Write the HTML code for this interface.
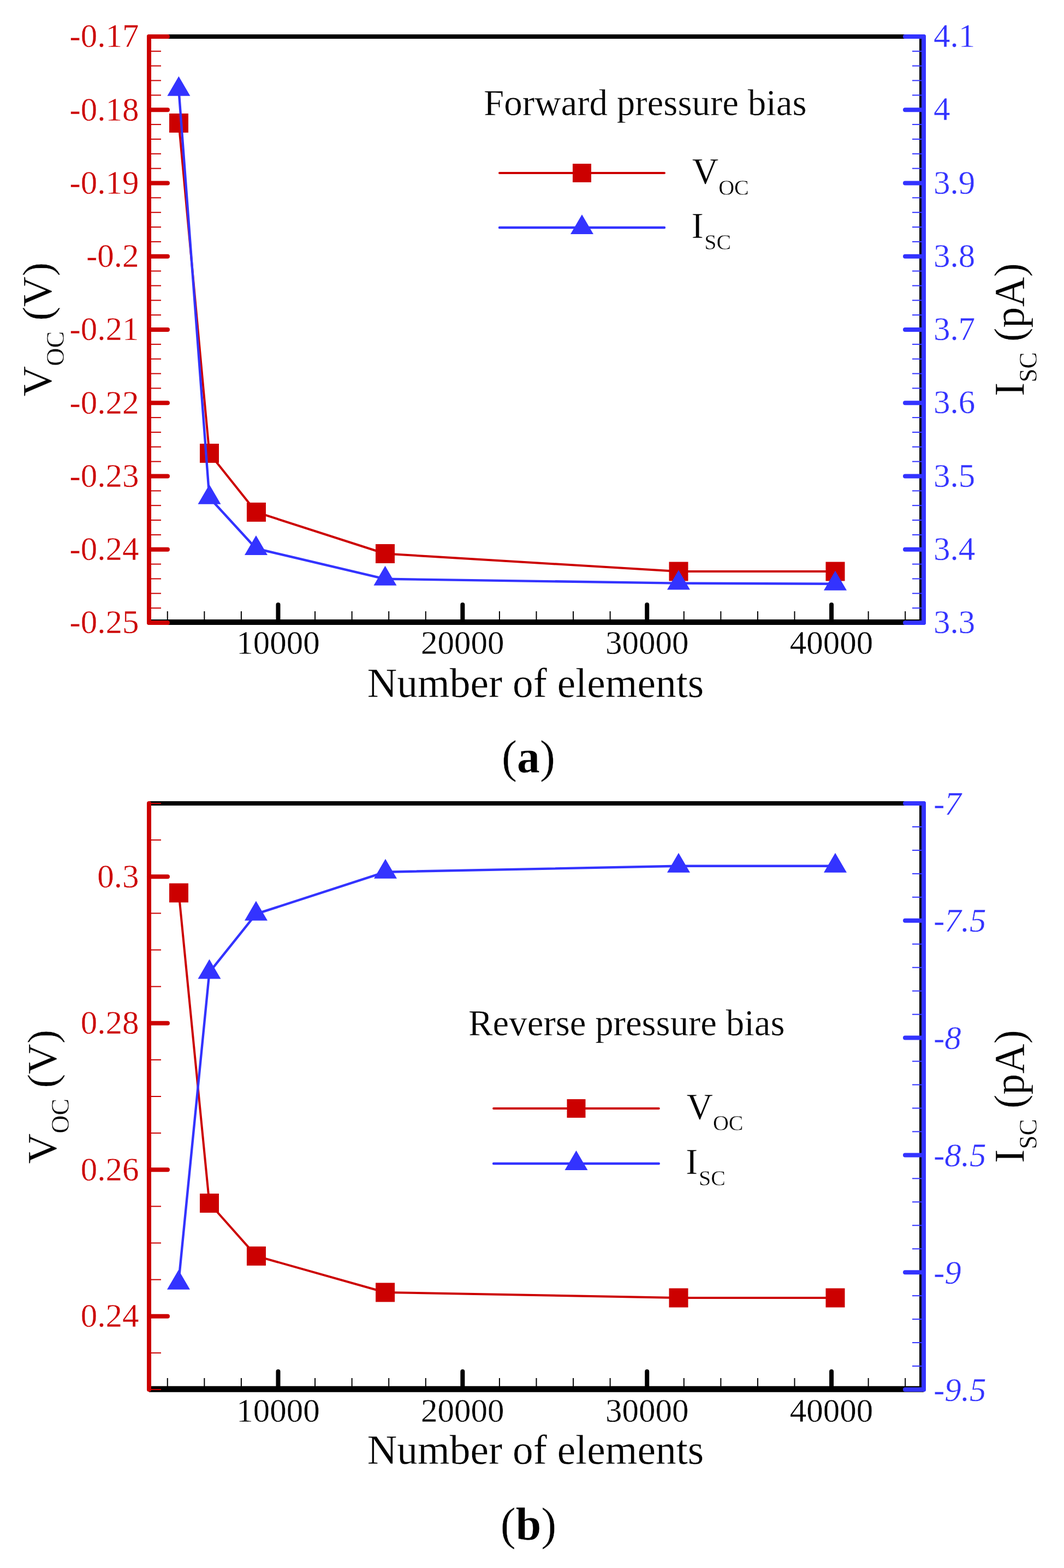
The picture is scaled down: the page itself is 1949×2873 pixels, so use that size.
<!DOCTYPE html>
<html><head><meta charset="utf-8"><title>Figure</title>
<style>html,body{margin:0;padding:0;background:#fff;}svg{display:block;}</style>
</head><body>
<svg width="1949" height="2873" viewBox="0 0 1949 2873" font-family="'Liberation Serif','Times New Roman',serif">
<rect width="1949" height="2873" fill="#fff"/>
<style>text{stroke:#fff;stroke-width:0.4;paint-order:normal;}</style>
<line x1="273.00" y1="67.00" x2="1692.00" y2="67.00" stroke="#000" stroke-width="8" stroke-linecap="butt"/>
<line x1="1688.00" y1="67.00" x2="1688.00" y2="1140.00" stroke="#000" stroke-width="8" stroke-linecap="butt"/>
<line x1="273.00" y1="1140.00" x2="1692.00" y2="1140.00" stroke="#000" stroke-width="10" stroke-linecap="butt"/>
<line x1="306.79" y1="1135.00" x2="306.79" y2="1120.00" stroke="#000" stroke-width="2" stroke-linecap="butt"/>
<line x1="374.36" y1="1135.00" x2="374.36" y2="1120.00" stroke="#000" stroke-width="2" stroke-linecap="butt"/>
<line x1="441.93" y1="1135.00" x2="441.93" y2="1120.00" stroke="#000" stroke-width="2" stroke-linecap="butt"/>
<line x1="509.50" y1="1135.00" x2="509.50" y2="1108.00" stroke="#000" stroke-width="8" stroke-linecap="round"/>
<line x1="577.07" y1="1135.00" x2="577.07" y2="1120.00" stroke="#000" stroke-width="2" stroke-linecap="butt"/>
<line x1="644.64" y1="1135.00" x2="644.64" y2="1120.00" stroke="#000" stroke-width="2" stroke-linecap="butt"/>
<line x1="712.21" y1="1135.00" x2="712.21" y2="1120.00" stroke="#000" stroke-width="2" stroke-linecap="butt"/>
<line x1="779.79" y1="1135.00" x2="779.79" y2="1120.00" stroke="#000" stroke-width="2" stroke-linecap="butt"/>
<line x1="847.36" y1="1135.00" x2="847.36" y2="1108.00" stroke="#000" stroke-width="8" stroke-linecap="round"/>
<line x1="914.93" y1="1135.00" x2="914.93" y2="1120.00" stroke="#000" stroke-width="2" stroke-linecap="butt"/>
<line x1="982.50" y1="1135.00" x2="982.50" y2="1120.00" stroke="#000" stroke-width="2" stroke-linecap="butt"/>
<line x1="1050.07" y1="1135.00" x2="1050.07" y2="1120.00" stroke="#000" stroke-width="2" stroke-linecap="butt"/>
<line x1="1117.64" y1="1135.00" x2="1117.64" y2="1120.00" stroke="#000" stroke-width="2" stroke-linecap="butt"/>
<line x1="1185.21" y1="1135.00" x2="1185.21" y2="1108.00" stroke="#000" stroke-width="8" stroke-linecap="round"/>
<line x1="1252.79" y1="1135.00" x2="1252.79" y2="1120.00" stroke="#000" stroke-width="2" stroke-linecap="butt"/>
<line x1="1320.36" y1="1135.00" x2="1320.36" y2="1120.00" stroke="#000" stroke-width="2" stroke-linecap="butt"/>
<line x1="1387.93" y1="1135.00" x2="1387.93" y2="1120.00" stroke="#000" stroke-width="2" stroke-linecap="butt"/>
<line x1="1455.50" y1="1135.00" x2="1455.50" y2="1120.00" stroke="#000" stroke-width="2" stroke-linecap="butt"/>
<line x1="1523.07" y1="1135.00" x2="1523.07" y2="1108.00" stroke="#000" stroke-width="8" stroke-linecap="round"/>
<line x1="1590.64" y1="1135.00" x2="1590.64" y2="1120.00" stroke="#000" stroke-width="2" stroke-linecap="butt"/>
<line x1="1658.21" y1="1135.00" x2="1658.21" y2="1120.00" stroke="#000" stroke-width="2" stroke-linecap="butt"/>
<text x="509.50" y="1198.40" font-size="61" fill="#000" text-anchor="middle" >10000</text>
<text x="847.36" y="1198.40" font-size="61" fill="#000" text-anchor="middle" >20000</text>
<text x="1185.21" y="1198.40" font-size="61" fill="#000" text-anchor="middle" >30000</text>
<text x="1523.07" y="1198.40" font-size="61" fill="#000" text-anchor="middle" >40000</text>
<line x1="273.00" y1="1141.00" x2="307.00" y2="1141.00" stroke="#cc0000" stroke-width="8" stroke-linecap="round"/>
<line x1="273.00" y1="1114.15" x2="295.00" y2="1114.15" stroke="#cc0000" stroke-width="2" stroke-linecap="butt"/>
<line x1="273.00" y1="1087.30" x2="295.00" y2="1087.30" stroke="#cc0000" stroke-width="2" stroke-linecap="butt"/>
<line x1="273.00" y1="1060.45" x2="295.00" y2="1060.45" stroke="#cc0000" stroke-width="2" stroke-linecap="butt"/>
<line x1="273.00" y1="1033.60" x2="295.00" y2="1033.60" stroke="#cc0000" stroke-width="2" stroke-linecap="butt"/>
<line x1="273.00" y1="1006.75" x2="307.00" y2="1006.75" stroke="#cc0000" stroke-width="8" stroke-linecap="round"/>
<line x1="273.00" y1="979.90" x2="295.00" y2="979.90" stroke="#cc0000" stroke-width="2" stroke-linecap="butt"/>
<line x1="273.00" y1="953.05" x2="295.00" y2="953.05" stroke="#cc0000" stroke-width="2" stroke-linecap="butt"/>
<line x1="273.00" y1="926.20" x2="295.00" y2="926.20" stroke="#cc0000" stroke-width="2" stroke-linecap="butt"/>
<line x1="273.00" y1="899.35" x2="295.00" y2="899.35" stroke="#cc0000" stroke-width="2" stroke-linecap="butt"/>
<line x1="273.00" y1="872.50" x2="307.00" y2="872.50" stroke="#cc0000" stroke-width="8" stroke-linecap="round"/>
<line x1="273.00" y1="845.65" x2="295.00" y2="845.65" stroke="#cc0000" stroke-width="2" stroke-linecap="butt"/>
<line x1="273.00" y1="818.80" x2="295.00" y2="818.80" stroke="#cc0000" stroke-width="2" stroke-linecap="butt"/>
<line x1="273.00" y1="791.95" x2="295.00" y2="791.95" stroke="#cc0000" stroke-width="2" stroke-linecap="butt"/>
<line x1="273.00" y1="765.10" x2="295.00" y2="765.10" stroke="#cc0000" stroke-width="2" stroke-linecap="butt"/>
<line x1="273.00" y1="738.25" x2="307.00" y2="738.25" stroke="#cc0000" stroke-width="8" stroke-linecap="round"/>
<line x1="273.00" y1="711.40" x2="295.00" y2="711.40" stroke="#cc0000" stroke-width="2" stroke-linecap="butt"/>
<line x1="273.00" y1="684.55" x2="295.00" y2="684.55" stroke="#cc0000" stroke-width="2" stroke-linecap="butt"/>
<line x1="273.00" y1="657.70" x2="295.00" y2="657.70" stroke="#cc0000" stroke-width="2" stroke-linecap="butt"/>
<line x1="273.00" y1="630.85" x2="295.00" y2="630.85" stroke="#cc0000" stroke-width="2" stroke-linecap="butt"/>
<line x1="273.00" y1="604.00" x2="307.00" y2="604.00" stroke="#cc0000" stroke-width="8" stroke-linecap="round"/>
<line x1="273.00" y1="577.15" x2="295.00" y2="577.15" stroke="#cc0000" stroke-width="2" stroke-linecap="butt"/>
<line x1="273.00" y1="550.30" x2="295.00" y2="550.30" stroke="#cc0000" stroke-width="2" stroke-linecap="butt"/>
<line x1="273.00" y1="523.45" x2="295.00" y2="523.45" stroke="#cc0000" stroke-width="2" stroke-linecap="butt"/>
<line x1="273.00" y1="496.60" x2="295.00" y2="496.60" stroke="#cc0000" stroke-width="2" stroke-linecap="butt"/>
<line x1="273.00" y1="469.75" x2="307.00" y2="469.75" stroke="#cc0000" stroke-width="8" stroke-linecap="round"/>
<line x1="273.00" y1="442.90" x2="295.00" y2="442.90" stroke="#cc0000" stroke-width="2" stroke-linecap="butt"/>
<line x1="273.00" y1="416.05" x2="295.00" y2="416.05" stroke="#cc0000" stroke-width="2" stroke-linecap="butt"/>
<line x1="273.00" y1="389.20" x2="295.00" y2="389.20" stroke="#cc0000" stroke-width="2" stroke-linecap="butt"/>
<line x1="273.00" y1="362.35" x2="295.00" y2="362.35" stroke="#cc0000" stroke-width="2" stroke-linecap="butt"/>
<line x1="273.00" y1="335.50" x2="307.00" y2="335.50" stroke="#cc0000" stroke-width="8" stroke-linecap="round"/>
<line x1="273.00" y1="308.65" x2="295.00" y2="308.65" stroke="#cc0000" stroke-width="2" stroke-linecap="butt"/>
<line x1="273.00" y1="281.80" x2="295.00" y2="281.80" stroke="#cc0000" stroke-width="2" stroke-linecap="butt"/>
<line x1="273.00" y1="254.95" x2="295.00" y2="254.95" stroke="#cc0000" stroke-width="2" stroke-linecap="butt"/>
<line x1="273.00" y1="228.10" x2="295.00" y2="228.10" stroke="#cc0000" stroke-width="2" stroke-linecap="butt"/>
<line x1="273.00" y1="201.25" x2="307.00" y2="201.25" stroke="#cc0000" stroke-width="8" stroke-linecap="round"/>
<line x1="273.00" y1="174.40" x2="295.00" y2="174.40" stroke="#cc0000" stroke-width="2" stroke-linecap="butt"/>
<line x1="273.00" y1="147.55" x2="295.00" y2="147.55" stroke="#cc0000" stroke-width="2" stroke-linecap="butt"/>
<line x1="273.00" y1="120.70" x2="295.00" y2="120.70" stroke="#cc0000" stroke-width="2" stroke-linecap="butt"/>
<line x1="273.00" y1="93.85" x2="295.00" y2="93.85" stroke="#cc0000" stroke-width="2" stroke-linecap="butt"/>
<line x1="273.00" y1="67.00" x2="307.00" y2="67.00" stroke="#cc0000" stroke-width="8" stroke-linecap="round"/>
<line x1="273.00" y1="67.00" x2="273.00" y2="1141.00" stroke="#cc0000" stroke-width="8" stroke-linecap="round"/>
<text x="254.50" y="86.30" font-size="61" fill="#cc0000" text-anchor="end" >-0.17</text>
<text x="254.50" y="220.55" font-size="61" fill="#cc0000" text-anchor="end" >-0.18</text>
<text x="254.50" y="354.80" font-size="61" fill="#cc0000" text-anchor="end" >-0.19</text>
<text x="254.50" y="489.05" font-size="61" fill="#cc0000" text-anchor="end" >-0.2</text>
<text x="254.50" y="623.30" font-size="61" fill="#cc0000" text-anchor="end" >-0.21</text>
<text x="254.50" y="757.55" font-size="61" fill="#cc0000" text-anchor="end" >-0.22</text>
<text x="254.50" y="891.80" font-size="61" fill="#cc0000" text-anchor="end" >-0.23</text>
<text x="254.50" y="1026.05" font-size="61" fill="#cc0000" text-anchor="end" >-0.24</text>
<text x="254.50" y="1160.30" font-size="61" fill="#cc0000" text-anchor="end" >-0.25</text>
<line x1="1692.00" y1="1141.00" x2="1658.00" y2="1141.00" stroke="#3333ff" stroke-width="8" stroke-linecap="round"/>
<line x1="1692.00" y1="1114.15" x2="1671.00" y2="1114.15" stroke="#3333ff" stroke-width="2" stroke-linecap="butt"/>
<line x1="1692.00" y1="1087.30" x2="1671.00" y2="1087.30" stroke="#3333ff" stroke-width="2" stroke-linecap="butt"/>
<line x1="1692.00" y1="1060.45" x2="1671.00" y2="1060.45" stroke="#3333ff" stroke-width="2" stroke-linecap="butt"/>
<line x1="1692.00" y1="1033.60" x2="1671.00" y2="1033.60" stroke="#3333ff" stroke-width="2" stroke-linecap="butt"/>
<line x1="1692.00" y1="1006.75" x2="1658.00" y2="1006.75" stroke="#3333ff" stroke-width="8" stroke-linecap="round"/>
<line x1="1692.00" y1="979.90" x2="1671.00" y2="979.90" stroke="#3333ff" stroke-width="2" stroke-linecap="butt"/>
<line x1="1692.00" y1="953.05" x2="1671.00" y2="953.05" stroke="#3333ff" stroke-width="2" stroke-linecap="butt"/>
<line x1="1692.00" y1="926.20" x2="1671.00" y2="926.20" stroke="#3333ff" stroke-width="2" stroke-linecap="butt"/>
<line x1="1692.00" y1="899.35" x2="1671.00" y2="899.35" stroke="#3333ff" stroke-width="2" stroke-linecap="butt"/>
<line x1="1692.00" y1="872.50" x2="1658.00" y2="872.50" stroke="#3333ff" stroke-width="8" stroke-linecap="round"/>
<line x1="1692.00" y1="845.65" x2="1671.00" y2="845.65" stroke="#3333ff" stroke-width="2" stroke-linecap="butt"/>
<line x1="1692.00" y1="818.80" x2="1671.00" y2="818.80" stroke="#3333ff" stroke-width="2" stroke-linecap="butt"/>
<line x1="1692.00" y1="791.95" x2="1671.00" y2="791.95" stroke="#3333ff" stroke-width="2" stroke-linecap="butt"/>
<line x1="1692.00" y1="765.10" x2="1671.00" y2="765.10" stroke="#3333ff" stroke-width="2" stroke-linecap="butt"/>
<line x1="1692.00" y1="738.25" x2="1658.00" y2="738.25" stroke="#3333ff" stroke-width="8" stroke-linecap="round"/>
<line x1="1692.00" y1="711.40" x2="1671.00" y2="711.40" stroke="#3333ff" stroke-width="2" stroke-linecap="butt"/>
<line x1="1692.00" y1="684.55" x2="1671.00" y2="684.55" stroke="#3333ff" stroke-width="2" stroke-linecap="butt"/>
<line x1="1692.00" y1="657.70" x2="1671.00" y2="657.70" stroke="#3333ff" stroke-width="2" stroke-linecap="butt"/>
<line x1="1692.00" y1="630.85" x2="1671.00" y2="630.85" stroke="#3333ff" stroke-width="2" stroke-linecap="butt"/>
<line x1="1692.00" y1="604.00" x2="1658.00" y2="604.00" stroke="#3333ff" stroke-width="8" stroke-linecap="round"/>
<line x1="1692.00" y1="577.15" x2="1671.00" y2="577.15" stroke="#3333ff" stroke-width="2" stroke-linecap="butt"/>
<line x1="1692.00" y1="550.30" x2="1671.00" y2="550.30" stroke="#3333ff" stroke-width="2" stroke-linecap="butt"/>
<line x1="1692.00" y1="523.45" x2="1671.00" y2="523.45" stroke="#3333ff" stroke-width="2" stroke-linecap="butt"/>
<line x1="1692.00" y1="496.60" x2="1671.00" y2="496.60" stroke="#3333ff" stroke-width="2" stroke-linecap="butt"/>
<line x1="1692.00" y1="469.75" x2="1658.00" y2="469.75" stroke="#3333ff" stroke-width="8" stroke-linecap="round"/>
<line x1="1692.00" y1="442.90" x2="1671.00" y2="442.90" stroke="#3333ff" stroke-width="2" stroke-linecap="butt"/>
<line x1="1692.00" y1="416.05" x2="1671.00" y2="416.05" stroke="#3333ff" stroke-width="2" stroke-linecap="butt"/>
<line x1="1692.00" y1="389.20" x2="1671.00" y2="389.20" stroke="#3333ff" stroke-width="2" stroke-linecap="butt"/>
<line x1="1692.00" y1="362.35" x2="1671.00" y2="362.35" stroke="#3333ff" stroke-width="2" stroke-linecap="butt"/>
<line x1="1692.00" y1="335.50" x2="1658.00" y2="335.50" stroke="#3333ff" stroke-width="8" stroke-linecap="round"/>
<line x1="1692.00" y1="308.65" x2="1671.00" y2="308.65" stroke="#3333ff" stroke-width="2" stroke-linecap="butt"/>
<line x1="1692.00" y1="281.80" x2="1671.00" y2="281.80" stroke="#3333ff" stroke-width="2" stroke-linecap="butt"/>
<line x1="1692.00" y1="254.95" x2="1671.00" y2="254.95" stroke="#3333ff" stroke-width="2" stroke-linecap="butt"/>
<line x1="1692.00" y1="228.10" x2="1671.00" y2="228.10" stroke="#3333ff" stroke-width="2" stroke-linecap="butt"/>
<line x1="1692.00" y1="201.25" x2="1658.00" y2="201.25" stroke="#3333ff" stroke-width="8" stroke-linecap="round"/>
<line x1="1692.00" y1="174.40" x2="1671.00" y2="174.40" stroke="#3333ff" stroke-width="2" stroke-linecap="butt"/>
<line x1="1692.00" y1="147.55" x2="1671.00" y2="147.55" stroke="#3333ff" stroke-width="2" stroke-linecap="butt"/>
<line x1="1692.00" y1="120.70" x2="1671.00" y2="120.70" stroke="#3333ff" stroke-width="2" stroke-linecap="butt"/>
<line x1="1692.00" y1="93.85" x2="1671.00" y2="93.85" stroke="#3333ff" stroke-width="2" stroke-linecap="butt"/>
<line x1="1692.00" y1="67.00" x2="1658.00" y2="67.00" stroke="#3333ff" stroke-width="8" stroke-linecap="round"/>
<line x1="1692.00" y1="67.00" x2="1692.00" y2="1141.00" stroke="#3333ff" stroke-width="8" stroke-linecap="round"/>
<text x="1710.00" y="1160.00" font-size="61" fill="#3333ff" text-anchor="start" >3.3</text>
<text x="1710.00" y="1025.75" font-size="61" fill="#3333ff" text-anchor="start" >3.4</text>
<text x="1710.00" y="891.50" font-size="61" fill="#3333ff" text-anchor="start" >3.5</text>
<text x="1710.00" y="757.25" font-size="61" fill="#3333ff" text-anchor="start" >3.6</text>
<text x="1710.00" y="623.00" font-size="61" fill="#3333ff" text-anchor="start" >3.7</text>
<text x="1710.00" y="488.75" font-size="61" fill="#3333ff" text-anchor="start" >3.8</text>
<text x="1710.00" y="354.50" font-size="61" fill="#3333ff" text-anchor="start" >3.9</text>
<text x="1710.00" y="220.25" font-size="61" fill="#3333ff" text-anchor="start" >4</text>
<text x="1710.00" y="86.00" font-size="61" fill="#3333ff" text-anchor="start" >4.1</text>
<polyline points="327.50,225.50 383.50,830.50 469.50,938.40 705.50,1014.50 1243.00,1047.00 1530.00,1047.00" fill="none" stroke="#cc0000" stroke-width="4" stroke-linejoin="round"/>
<rect x="310.00" y="208.00" width="35" height="35" fill="#cc0000"/>
<rect x="366.00" y="813.00" width="35" height="35" fill="#cc0000"/>
<rect x="452.00" y="920.90" width="35" height="35" fill="#cc0000"/>
<rect x="688.00" y="997.00" width="35" height="35" fill="#cc0000"/>
<rect x="1225.50" y="1029.50" width="35" height="35" fill="#cc0000"/>
<rect x="1512.50" y="1029.50" width="35" height="35" fill="#cc0000"/>
<polyline points="327.40,163.80 383.50,911.70 469.00,1005.00 705.50,1060.80 1243.00,1068.60 1530.00,1069.80" fill="none" stroke="#3333ff" stroke-width="4.4" stroke-linejoin="round"/>
<polygon points="327.40,139.80 306.40,175.80 348.40,175.80" fill="#3333ff"/>
<polygon points="383.50,887.70 362.50,923.70 404.50,923.70" fill="#3333ff"/>
<polygon points="469.00,981.00 448.00,1017.00 490.00,1017.00" fill="#3333ff"/>
<polygon points="705.50,1036.80 684.50,1072.80 726.50,1072.80" fill="#3333ff"/>
<polygon points="1243.00,1044.60 1222.00,1080.60 1264.00,1080.60" fill="#3333ff"/>
<polygon points="1530.00,1045.80 1509.00,1081.80 1551.00,1081.80" fill="#3333ff"/>
<text x="886.00" y="211.00" font-size="67" fill="#000" text-anchor="start" >Forward pressure bias</text>
<line x1="915.00" y1="317.00" x2="1217.00" y2="317.00" stroke="#cc0000" stroke-width="4" stroke-linecap="round"/>
<rect x="1049.00" y="300.00" width="34" height="34" fill="#cc0000"/>
<line x1="915.00" y1="417.00" x2="1217.00" y2="417.00" stroke="#3333ff" stroke-width="4.4" stroke-linecap="round"/>
<polygon points="1066.00,393.00 1045.00,429.00 1087.00,429.00" fill="#3333ff"/>
<text x="1267.8" y="336.3" font-size="67">V<tspan font-size="40" dy="20.7">OC</tspan></text>
<text x="1266.4" y="436" font-size="67">I<tspan font-size="40" dx="1.6" dy="21">SC</tspan></text>
<text transform="translate(93.5,603.5) rotate(-90)" font-size="77" text-anchor="middle" transform-origin="0 0">V<tspan font-size="46" dy="23">OC</tspan><tspan dy="-23"> (V)</tspan></text>
<text transform="translate(1875,604.0) rotate(-90) scale(0.985,1)" font-size="77.5" text-anchor="middle">I<tspan font-size="46" dy="24">SC</tspan><tspan dy="-24"> (pA)</tspan></text>
<text x="981.00" y="1277.00" font-size="75.5" fill="#000" text-anchor="middle" >Number of elements</text>
<text x="968" y="1415" font-size="84" text-anchor="middle">(<tspan font-weight="bold">a</tspan>)</text>
<line x1="273.00" y1="1472.00" x2="1692.00" y2="1472.00" stroke="#000" stroke-width="8" stroke-linecap="butt"/>
<line x1="1688.00" y1="1472.00" x2="1688.00" y2="2545.00" stroke="#000" stroke-width="8" stroke-linecap="butt"/>
<line x1="273.00" y1="2545.25" x2="1692.00" y2="2545.25" stroke="#000" stroke-width="11" stroke-linecap="butt"/>
<line x1="306.79" y1="2540.00" x2="306.79" y2="2525.00" stroke="#000" stroke-width="2" stroke-linecap="butt"/>
<line x1="374.36" y1="2540.00" x2="374.36" y2="2525.00" stroke="#000" stroke-width="2" stroke-linecap="butt"/>
<line x1="441.93" y1="2540.00" x2="441.93" y2="2525.00" stroke="#000" stroke-width="2" stroke-linecap="butt"/>
<line x1="509.50" y1="2540.00" x2="509.50" y2="2513.00" stroke="#000" stroke-width="8" stroke-linecap="round"/>
<line x1="577.07" y1="2540.00" x2="577.07" y2="2525.00" stroke="#000" stroke-width="2" stroke-linecap="butt"/>
<line x1="644.64" y1="2540.00" x2="644.64" y2="2525.00" stroke="#000" stroke-width="2" stroke-linecap="butt"/>
<line x1="712.21" y1="2540.00" x2="712.21" y2="2525.00" stroke="#000" stroke-width="2" stroke-linecap="butt"/>
<line x1="779.79" y1="2540.00" x2="779.79" y2="2525.00" stroke="#000" stroke-width="2" stroke-linecap="butt"/>
<line x1="847.36" y1="2540.00" x2="847.36" y2="2513.00" stroke="#000" stroke-width="8" stroke-linecap="round"/>
<line x1="914.93" y1="2540.00" x2="914.93" y2="2525.00" stroke="#000" stroke-width="2" stroke-linecap="butt"/>
<line x1="982.50" y1="2540.00" x2="982.50" y2="2525.00" stroke="#000" stroke-width="2" stroke-linecap="butt"/>
<line x1="1050.07" y1="2540.00" x2="1050.07" y2="2525.00" stroke="#000" stroke-width="2" stroke-linecap="butt"/>
<line x1="1117.64" y1="2540.00" x2="1117.64" y2="2525.00" stroke="#000" stroke-width="2" stroke-linecap="butt"/>
<line x1="1185.21" y1="2540.00" x2="1185.21" y2="2513.00" stroke="#000" stroke-width="8" stroke-linecap="round"/>
<line x1="1252.79" y1="2540.00" x2="1252.79" y2="2525.00" stroke="#000" stroke-width="2" stroke-linecap="butt"/>
<line x1="1320.36" y1="2540.00" x2="1320.36" y2="2525.00" stroke="#000" stroke-width="2" stroke-linecap="butt"/>
<line x1="1387.93" y1="2540.00" x2="1387.93" y2="2525.00" stroke="#000" stroke-width="2" stroke-linecap="butt"/>
<line x1="1455.50" y1="2540.00" x2="1455.50" y2="2525.00" stroke="#000" stroke-width="2" stroke-linecap="butt"/>
<line x1="1523.07" y1="2540.00" x2="1523.07" y2="2513.00" stroke="#000" stroke-width="8" stroke-linecap="round"/>
<line x1="1590.64" y1="2540.00" x2="1590.64" y2="2525.00" stroke="#000" stroke-width="2" stroke-linecap="butt"/>
<line x1="1658.21" y1="2540.00" x2="1658.21" y2="2525.00" stroke="#000" stroke-width="2" stroke-linecap="butt"/>
<text x="509.50" y="2604.80" font-size="61" fill="#000" text-anchor="middle" >10000</text>
<text x="847.36" y="2604.80" font-size="61" fill="#000" text-anchor="middle" >20000</text>
<text x="1185.21" y="2604.80" font-size="61" fill="#000" text-anchor="middle" >30000</text>
<text x="1523.07" y="2604.80" font-size="61" fill="#000" text-anchor="middle" >40000</text>
<line x1="273.00" y1="2546.00" x2="295.00" y2="2546.00" stroke="#cc0000" stroke-width="2" stroke-linecap="butt"/>
<line x1="273.00" y1="2478.88" x2="295.00" y2="2478.88" stroke="#cc0000" stroke-width="2" stroke-linecap="butt"/>
<line x1="273.00" y1="2411.75" x2="307.00" y2="2411.75" stroke="#cc0000" stroke-width="8" stroke-linecap="round"/>
<line x1="273.00" y1="2344.62" x2="295.00" y2="2344.62" stroke="#cc0000" stroke-width="2" stroke-linecap="butt"/>
<line x1="273.00" y1="2277.50" x2="295.00" y2="2277.50" stroke="#cc0000" stroke-width="2" stroke-linecap="butt"/>
<line x1="273.00" y1="2210.38" x2="295.00" y2="2210.38" stroke="#cc0000" stroke-width="2" stroke-linecap="butt"/>
<line x1="273.00" y1="2143.25" x2="307.00" y2="2143.25" stroke="#cc0000" stroke-width="8" stroke-linecap="round"/>
<line x1="273.00" y1="2076.12" x2="295.00" y2="2076.12" stroke="#cc0000" stroke-width="2" stroke-linecap="butt"/>
<line x1="273.00" y1="2009.00" x2="295.00" y2="2009.00" stroke="#cc0000" stroke-width="2" stroke-linecap="butt"/>
<line x1="273.00" y1="1941.87" x2="295.00" y2="1941.87" stroke="#cc0000" stroke-width="2" stroke-linecap="butt"/>
<line x1="273.00" y1="1874.75" x2="307.00" y2="1874.75" stroke="#cc0000" stroke-width="8" stroke-linecap="round"/>
<line x1="273.00" y1="1807.62" x2="295.00" y2="1807.62" stroke="#cc0000" stroke-width="2" stroke-linecap="butt"/>
<line x1="273.00" y1="1740.50" x2="295.00" y2="1740.50" stroke="#cc0000" stroke-width="2" stroke-linecap="butt"/>
<line x1="273.00" y1="1673.37" x2="295.00" y2="1673.37" stroke="#cc0000" stroke-width="2" stroke-linecap="butt"/>
<line x1="273.00" y1="1606.25" x2="307.00" y2="1606.25" stroke="#cc0000" stroke-width="8" stroke-linecap="round"/>
<line x1="273.00" y1="1539.12" x2="295.00" y2="1539.12" stroke="#cc0000" stroke-width="2" stroke-linecap="butt"/>
<line x1="273.00" y1="1472.00" x2="295.00" y2="1472.00" stroke="#cc0000" stroke-width="2" stroke-linecap="butt"/>
<line x1="273.00" y1="1472.00" x2="273.00" y2="2546.00" stroke="#cc0000" stroke-width="8" stroke-linecap="round"/>
<text x="254.50" y="1625.55" font-size="61" fill="#cc0000" text-anchor="end" >0.3</text>
<text x="254.50" y="1894.05" font-size="61" fill="#cc0000" text-anchor="end" >0.28</text>
<text x="254.50" y="2162.55" font-size="61" fill="#cc0000" text-anchor="end" >0.26</text>
<text x="254.50" y="2431.05" font-size="61" fill="#cc0000" text-anchor="end" >0.24</text>
<line x1="1692.00" y1="2546.00" x2="1658.00" y2="2546.00" stroke="#3333ff" stroke-width="8" stroke-linecap="round"/>
<line x1="1692.00" y1="2503.04" x2="1671.00" y2="2503.04" stroke="#3333ff" stroke-width="2" stroke-linecap="butt"/>
<line x1="1692.00" y1="2460.08" x2="1671.00" y2="2460.08" stroke="#3333ff" stroke-width="2" stroke-linecap="butt"/>
<line x1="1692.00" y1="2417.12" x2="1671.00" y2="2417.12" stroke="#3333ff" stroke-width="2" stroke-linecap="butt"/>
<line x1="1692.00" y1="2374.16" x2="1671.00" y2="2374.16" stroke="#3333ff" stroke-width="2" stroke-linecap="butt"/>
<line x1="1692.00" y1="2331.20" x2="1658.00" y2="2331.20" stroke="#3333ff" stroke-width="8" stroke-linecap="round"/>
<line x1="1692.00" y1="2288.24" x2="1671.00" y2="2288.24" stroke="#3333ff" stroke-width="2" stroke-linecap="butt"/>
<line x1="1692.00" y1="2245.28" x2="1671.00" y2="2245.28" stroke="#3333ff" stroke-width="2" stroke-linecap="butt"/>
<line x1="1692.00" y1="2202.32" x2="1671.00" y2="2202.32" stroke="#3333ff" stroke-width="2" stroke-linecap="butt"/>
<line x1="1692.00" y1="2159.36" x2="1671.00" y2="2159.36" stroke="#3333ff" stroke-width="2" stroke-linecap="butt"/>
<line x1="1692.00" y1="2116.40" x2="1658.00" y2="2116.40" stroke="#3333ff" stroke-width="8" stroke-linecap="round"/>
<line x1="1692.00" y1="2073.44" x2="1671.00" y2="2073.44" stroke="#3333ff" stroke-width="2" stroke-linecap="butt"/>
<line x1="1692.00" y1="2030.48" x2="1671.00" y2="2030.48" stroke="#3333ff" stroke-width="2" stroke-linecap="butt"/>
<line x1="1692.00" y1="1987.52" x2="1671.00" y2="1987.52" stroke="#3333ff" stroke-width="2" stroke-linecap="butt"/>
<line x1="1692.00" y1="1944.56" x2="1671.00" y2="1944.56" stroke="#3333ff" stroke-width="2" stroke-linecap="butt"/>
<line x1="1692.00" y1="1901.60" x2="1658.00" y2="1901.60" stroke="#3333ff" stroke-width="8" stroke-linecap="round"/>
<line x1="1692.00" y1="1858.64" x2="1671.00" y2="1858.64" stroke="#3333ff" stroke-width="2" stroke-linecap="butt"/>
<line x1="1692.00" y1="1815.68" x2="1671.00" y2="1815.68" stroke="#3333ff" stroke-width="2" stroke-linecap="butt"/>
<line x1="1692.00" y1="1772.72" x2="1671.00" y2="1772.72" stroke="#3333ff" stroke-width="2" stroke-linecap="butt"/>
<line x1="1692.00" y1="1729.76" x2="1671.00" y2="1729.76" stroke="#3333ff" stroke-width="2" stroke-linecap="butt"/>
<line x1="1692.00" y1="1686.80" x2="1658.00" y2="1686.80" stroke="#3333ff" stroke-width="8" stroke-linecap="round"/>
<line x1="1692.00" y1="1643.84" x2="1671.00" y2="1643.84" stroke="#3333ff" stroke-width="2" stroke-linecap="butt"/>
<line x1="1692.00" y1="1600.88" x2="1671.00" y2="1600.88" stroke="#3333ff" stroke-width="2" stroke-linecap="butt"/>
<line x1="1692.00" y1="1557.92" x2="1671.00" y2="1557.92" stroke="#3333ff" stroke-width="2" stroke-linecap="butt"/>
<line x1="1692.00" y1="1514.96" x2="1671.00" y2="1514.96" stroke="#3333ff" stroke-width="2" stroke-linecap="butt"/>
<line x1="1692.00" y1="1472.00" x2="1658.00" y2="1472.00" stroke="#3333ff" stroke-width="8" stroke-linecap="round"/>
<line x1="1692.00" y1="1472.00" x2="1692.00" y2="2546.00" stroke="#3333ff" stroke-width="8" stroke-linecap="round"/>
<text x="1710.00" y="1492.50" font-size="61" fill="#3333ff" text-anchor="start"  font-style="italic">-7</text>
<text x="1710.00" y="1707.30" font-size="61" fill="#3333ff" text-anchor="start"  font-style="italic">-7.5</text>
<text x="1710.00" y="1922.10" font-size="61" fill="#3333ff" text-anchor="start"  font-style="italic">-8</text>
<text x="1710.00" y="2136.90" font-size="61" fill="#3333ff" text-anchor="start"  font-style="italic">-8.5</text>
<text x="1710.00" y="2351.70" font-size="61" fill="#3333ff" text-anchor="start"  font-style="italic">-9</text>
<text x="1710.00" y="2566.50" font-size="61" fill="#3333ff" text-anchor="start"  font-style="italic">-9.5</text>
<polyline points="327.50,1636.00 383.50,2204.50 469.50,2301.40 705.60,2368.00 1243.00,2378.00 1530.00,2378.00" fill="none" stroke="#cc0000" stroke-width="4" stroke-linejoin="round"/>
<rect x="310.00" y="1618.50" width="35" height="35" fill="#cc0000"/>
<rect x="366.00" y="2187.00" width="35" height="35" fill="#cc0000"/>
<rect x="452.00" y="2283.90" width="35" height="35" fill="#cc0000"/>
<rect x="688.10" y="2350.50" width="35" height="35" fill="#cc0000"/>
<rect x="1225.50" y="2360.50" width="35" height="35" fill="#cc0000"/>
<rect x="1512.50" y="2360.50" width="35" height="35" fill="#cc0000"/>
<polyline points="327.00,2350.70 383.50,1781.60 469.00,1674.70 706.00,1597.70 1243.00,1586.80 1530.00,1586.70" fill="none" stroke="#3333ff" stroke-width="4.4" stroke-linejoin="round"/>
<polygon points="327.00,2326.70 306.00,2362.70 348.00,2362.70" fill="#3333ff"/>
<polygon points="383.50,1757.60 362.50,1793.60 404.50,1793.60" fill="#3333ff"/>
<polygon points="469.00,1650.70 448.00,1686.70 490.00,1686.70" fill="#3333ff"/>
<polygon points="706.00,1573.70 685.00,1609.70 727.00,1609.70" fill="#3333ff"/>
<polygon points="1243.00,1562.80 1222.00,1598.80 1264.00,1598.80" fill="#3333ff"/>
<polygon points="1530.00,1562.70 1509.00,1598.70 1551.00,1598.70" fill="#3333ff"/>
<text x="858.00" y="1897.00" font-size="66.9" fill="#000" text-anchor="start" >Reverse pressure bias</text>
<line x1="904.10" y1="2031.00" x2="1206.80" y2="2031.00" stroke="#cc0000" stroke-width="4" stroke-linecap="round"/>
<rect x="1038.50" y="2014.00" width="34" height="34" fill="#cc0000"/>
<line x1="904.10" y1="2132.00" x2="1206.80" y2="2132.00" stroke="#3333ff" stroke-width="4.4" stroke-linecap="round"/>
<polygon points="1055.50,2108.00 1034.50,2144.00 1076.50,2144.00" fill="#3333ff"/>
<text x="1257.5" y="2050.3" font-size="67">V<tspan font-size="40" dy="20.7">OC</tspan></text>
<text x="1256.1000000000001" y="2151" font-size="67">I<tspan font-size="40" dx="1.6" dy="21">SC</tspan></text>
<text transform="translate(102.5,2009.5) rotate(-90)" font-size="77" text-anchor="middle" transform-origin="0 0">V<tspan font-size="46" dy="23">OC</tspan><tspan dy="-23"> (V)</tspan></text>
<text transform="translate(1875,2009.0) rotate(-90) scale(0.985,1)" font-size="77.5" text-anchor="middle">I<tspan font-size="46" dy="24">SC</tspan><tspan dy="-24"> (pA)</tspan></text>
<text x="981.00" y="2682.00" font-size="75.5" fill="#000" text-anchor="middle" >Number of elements</text>
<text x="968" y="2821" font-size="84" text-anchor="middle">(<tspan font-weight="bold">b</tspan>)</text>
</svg>
</body></html>
